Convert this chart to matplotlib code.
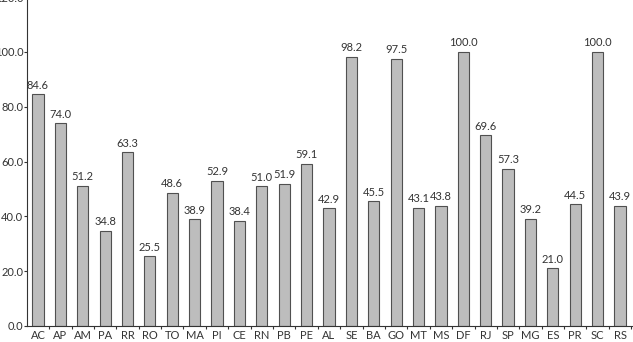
import matplotlib
matplotlib.use("Agg")
import matplotlib.pyplot as plt

states = ["AC", "AP", "AM", "PA", "RR", "RO", "TO", "MA", "PI", "CE", "RN", "PB", "PE",
          "AL", "SE", "BA", "GO", "MT", "MS", "DF", "RJ", "SP", "MG", "ES", "PR", "SC", "RS"]
values = [84.6, 74.0, 51.2, 34.8, 63.3, 25.5, 48.6, 38.9, 52.9, 38.4, 51.0, 51.9, 59.1,
          42.9, 98.2, 45.5, 97.5, 43.1, 43.8, 100.0, 69.6, 57.3, 39.2, 21.0, 44.5, 100.0, 43.9]
yticks = [0, 20, 40, 60, 80, 100, 120]

plt.rcParams['font.family'] = ['Lato', 'DejaVu Sans']
fig = plt.figure(figsize=(6.33, 3.42), dpi=100)
ax = fig.add_axes([27 / 633, 16 / 342, 606 / 633, 329 / 342])

x = list(range(len(states)))
ax.bar(x, values, width=0.5, color="#bdbdbd", edgecolor="#505050", linewidth=0.8)
for xi, v in zip(x, values):
    ax.annotate(f"{v:.1f}", (xi, v), xytext=(0, 2.5), textcoords="offset points",
                ha="center", va="bottom", fontsize=8, color="#333333")

ax.set_xlim(-0.49, len(states) - 0.42)
ax.set_ylim(0, 120)
ax.set_yticks(yticks)
ax.set_yticklabels([f"{t:.1f}" for t in yticks], fontsize=8, color="#333333")
ax.set_xticks(x)
ax.set_xticklabels(states, fontsize=8, color="#333333")
ax.set_xticks([i + 0.5 for i in range(len(states))], minor=True)
ax.tick_params(axis="x", which="major", length=0, pad=3)
ax.tick_params(axis="x", which="minor", length=2.2, width=0.8, color="#333333")
ax.tick_params(axis="y", length=2.2, width=0.8, pad=0.5, color="#333333")
for s in ["top", "right"]:
    ax.spines[s].set_visible(False)
for s in ["left", "bottom"]:
    ax.spines[s].set_color("#333333")
    ax.spines[s].set_linewidth(0.8)

fig.savefig("out.png", dpi=100)
